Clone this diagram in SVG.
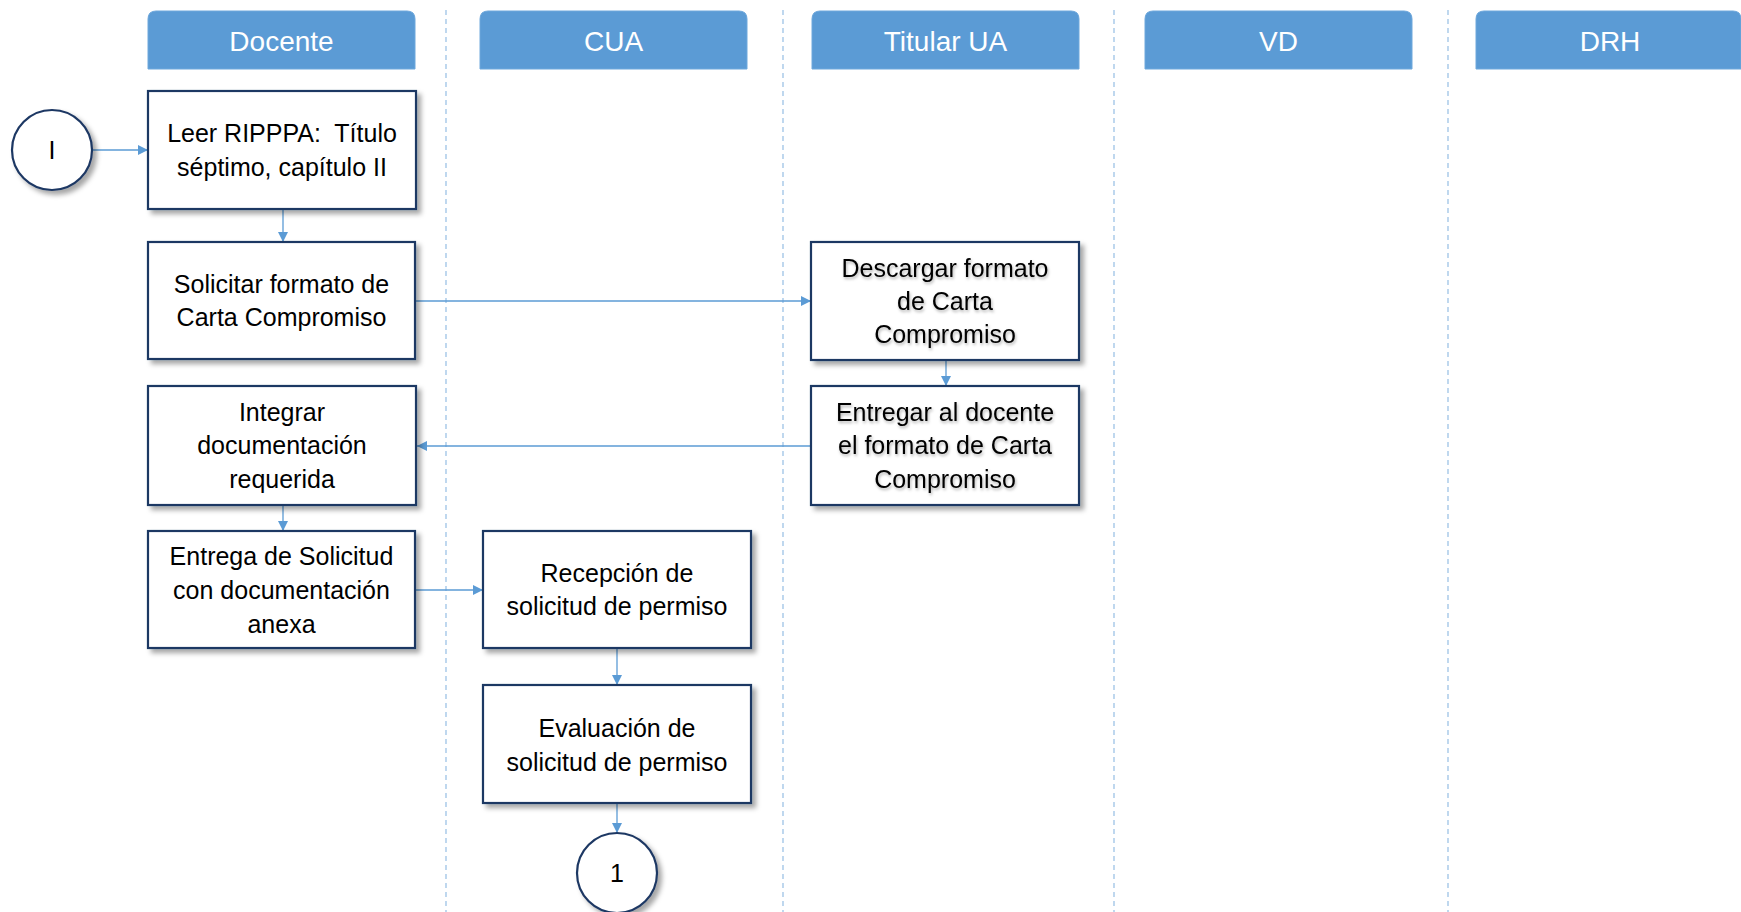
<svg xmlns="http://www.w3.org/2000/svg" width="1741" height="912" viewBox="0 0 1741 912">
<defs>
<style>
.hdr{fill:#5B9BD5;stroke:#6FA8DC;stroke-width:1}
.htxt{font-family:"Liberation Sans",Arial,sans-serif;font-size:28px;fill:#ffffff;text-anchor:middle}
.box{fill:#ffffff;stroke:#1F3864;stroke-width:2.2}
.txt{font-family:"Liberation Sans",Arial,sans-serif;font-size:25px;fill:#000000;text-anchor:middle}
.lane{stroke:#9DC3E6;stroke-width:1.3;stroke-dasharray:5,4;fill:none}
.con{stroke:#5B9BD5;stroke-width:1.3;fill:none}
</style>
<filter id="sh" x="-10%" y="-10%" width="130%" height="130%">
<feDropShadow dx="4" dy="4" stdDeviation="2.5" flood-color="#000" flood-opacity="0.35"/>
</filter>
<filter id="tsh" x="-10%" y="-20%" width="120%" height="150%">
<feDropShadow dx="1" dy="2" stdDeviation="1.5" flood-color="#000" flood-opacity="0.3"/>
</filter>
<marker id="ar" viewBox="0 0 10 10" refX="10" refY="5" markerWidth="10" markerHeight="10" markerUnits="userSpaceOnUse" orient="auto">
<path d="M0,0 L10,5 L0,10 z" fill="#5B9BD5"/>
</marker>
</defs>
<rect width="1741" height="912" fill="#ffffff"/>
<g id="lanes">
<line class="lane" x1="446" y1="10" x2="446" y2="912"/>
<line class="lane" x1="783" y1="10" x2="783" y2="912"/>
<line class="lane" x1="1114" y1="10" x2="1114" y2="912"/>
<line class="lane" x1="1448" y1="10" x2="1448" y2="912"/>
</g>
<g id="headers">
<g id="h-docente"><path class="hdr" d="M148,69 V19 Q148,11 156,11 H407 Q415,11 415,19 V69 Z"/><text class="htxt" x="281.5" y="51">Docente</text></g>
<g id="h-cua"><path class="hdr" d="M480,69 V19 Q480,11 488,11 H739 Q747,11 747,19 V69 Z"/><text class="htxt" x="613.5" y="51">CUA</text></g>
<g id="h-titular"><path class="hdr" d="M812,69 V19 Q812,11 820,11 H1071 Q1079,11 1079,19 V69 Z"/><text class="htxt" x="945.5" y="51">Titular UA</text></g>
<g id="h-vd"><path class="hdr" d="M1145,69 V19 Q1145,11 1153,11 H1404 Q1412,11 1412,19 V69 Z"/><text class="htxt" x="1278.5" y="51">VD</text></g>
<g id="h-drh"><path class="hdr" d="M1476,69 V19 Q1476,11 1484,11 H1733 Q1741,11 1741,19 V69 Z"/><text class="htxt" x="1610" y="51">DRH</text></g>
</g>
<g id="connectors">
<line class="con" x1="92" y1="150" x2="148" y2="150" marker-end="url(#ar)"/>
<line class="con" x1="283" y1="209" x2="283" y2="242" marker-end="url(#ar)"/>
<line class="con" x1="415" y1="301" x2="811" y2="301" marker-end="url(#ar)"/>
<line class="con" x1="946" y1="360" x2="946" y2="386" marker-end="url(#ar)"/>
<line class="con" x1="811" y1="446" x2="417" y2="446" marker-end="url(#ar)"/>
<line class="con" x1="283" y1="505" x2="283" y2="531" marker-end="url(#ar)"/>
<line class="con" x1="415" y1="590" x2="483" y2="590" marker-end="url(#ar)"/>
<line class="con" x1="617" y1="648" x2="617" y2="685" marker-end="url(#ar)"/>
<line class="con" x1="617" y1="803" x2="617" y2="833" marker-end="url(#ar)"/>
</g>
<g id="n-inicio"><circle class="box" cx="52" cy="150" r="40" filter="url(#sh)"/><text class="txt" x="52" y="159">I</text></g>
<g id="n-leer"><rect class="box" x="148" y="91" width="268" height="118" filter="url(#sh)"/><text class="txt" x="282" y="142">Leer RIPPPA:&#160; Título</text><text class="txt" x="282" y="176">séptimo, capítulo II</text></g>
<g id="n-solicitar"><rect class="box" x="148" y="242" width="267" height="117" filter="url(#sh)"/><text class="txt" x="281.5" y="293">Solicitar formato de</text><text class="txt" x="281.5" y="326">Carta Compromiso</text></g>
<g id="n-integrar"><rect class="box" x="148" y="386" width="268" height="119" filter="url(#sh)"/><text class="txt" x="282" y="421">Integrar</text><text class="txt" x="282" y="454">documentación</text><text class="txt" x="282" y="488">requerida</text></g>
<g id="n-entrega"><rect class="box" x="148" y="531" width="267" height="117" filter="url(#sh)"/><text class="txt" x="281.5" y="565">Entrega de Solicitud</text><text class="txt" x="281.5" y="599">con documentación</text><text class="txt" x="281.5" y="633">anexa</text></g>
<g id="n-descargar"><rect class="box" x="811" y="242" width="268" height="118" filter="url(#sh)"/><g filter="url(#tsh)"><text class="txt" x="945" y="277">Descargar formato</text><text class="txt" x="945" y="310">de Carta</text><text class="txt" x="945" y="343">Compromiso</text></g></g>
<g id="n-entregar"><rect class="box" x="811" y="386" width="268" height="119" filter="url(#sh)"/><g filter="url(#tsh)"><text class="txt" x="945" y="421">Entregar al docente</text><text class="txt" x="945" y="454">el formato de Carta</text><text class="txt" x="945" y="488">Compromiso</text></g></g>
<g id="n-recepcion"><rect class="box" x="483" y="531" width="268" height="117" filter="url(#sh)"/><text class="txt" x="617" y="582">Recepción de</text><text class="txt" x="617" y="615">solicitud de permiso</text></g>
<g id="n-evaluacion"><rect class="box" x="483" y="685" width="268" height="118" filter="url(#sh)"/><text class="txt" x="617" y="737">Evaluación de</text><text class="txt" x="617" y="771">solicitud de permiso</text></g>
<g id="n-fin"><circle class="box" cx="617" cy="873" r="40" filter="url(#sh)"/><text class="txt" x="617" y="882">1</text></g>
</svg>
